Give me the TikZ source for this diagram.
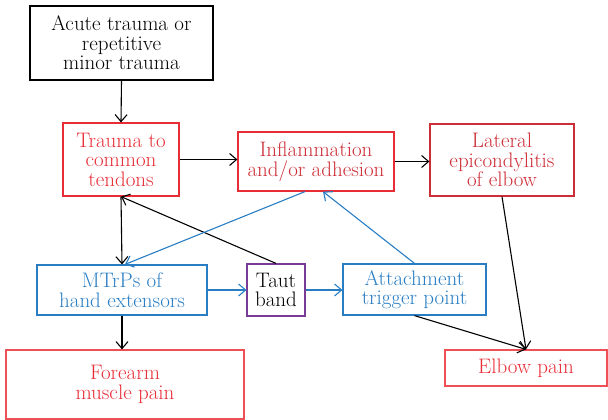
\documentclass[tikz,border=0pt]{standalone}
\usetikzlibrary{arrows.meta}
\definecolor{cred}{RGB}{232,45,55}
\definecolor{cdred}{RGB}{205,45,55}
\definecolor{clred}{RGB}{238,80,85}
\definecolor{cblue}{RGB}{40,125,195}
\definecolor{cpurp}{RGB}{120,60,150}
\newcommand{\fs}{\fontsize{21}{19.5}\selectfont}
\begin{document}
\begin{tikzpicture}[x=1pt,y=-1pt,
  box/.style={draw, line width=1.2pt, align=center, inner sep=0pt, font=\fs},
  arr/.style={line width=1.1pt, -{Straight Barb[length=7pt,width=12pt]}},
]
\useasboundingbox (0,0) rectangle (608,420);
\node[box, minimum width=183pt, minimum height=74pt] (acute) at (121.5,43) {Acute trauma or\\repetitive\\minor trauma};
\node[box, draw=cred, text=cred, minimum width=116pt, minimum height=73pt] (trauma) at (121,159.5) {Trauma to\\common\\tendons};
\node[box, draw=cred, text=cdred, minimum width=156pt, minimum height=59pt] (infl) at (316,161.5) {Inflammation\\and/or adhesion};
\node[box, draw=cdred, text=cdred, minimum width=144pt, minimum height=72pt] (lat) at (502,160) {Lateral\\epicondylitis\\of elbow};
\node[box, draw=cblue, text=cblue, minimum width=170pt, minimum height=50pt] (mtrp) at (122,290) {MTrPs of\\hand extensors};
\node[box, draw=cpurp, minimum width=58pt, minimum height=52pt] (taut) at (276,290) {Taut\\band};
\node[box, draw=cblue, text=cblue, minimum width=143pt, minimum height=51pt] (att) at (414.5,289.5) {Attachment\\trigger point};
\node[box, draw=clred, text=cred, minimum width=238pt, minimum height=69pt] (fore) at (125,384.5) {Forearm\\muscle pain};
\node[box, draw=clred, text=cred, minimum width=162pt, minimum height=36pt] (elbow) at (526,368) {Elbow pain};

\draw[arr] (acute.south) -- (trauma.north);
\draw[arr] (trauma.east) -- (infl.west |- trauma.east);
\draw[arr] (infl.east) -- (lat.west |- infl.east);
\draw[arr] (trauma.south) -- (mtrp.north);
\draw[arr] (taut.north) -- (trauma.south);
\draw[arr, draw=cblue] ([xshift=-11pt]infl.south) -- ([xshift=3pt]mtrp.north);
\draw[arr, draw=cblue] (mtrp.east) -- (taut.west);
\draw[arr, draw=cblue] (taut.east) -- (att.west |- taut.east);
\draw[arr, draw=cblue] (att.north) -- ([xshift=7pt]infl.south);
\draw[arr] (att.south) -- (elbow.north);
\draw[arr] (lat.south) -- (elbow.north);
\draw[arr] (mtrp.south) -- (fore.north -| mtrp.south);
\end{tikzpicture}
\end{document}
